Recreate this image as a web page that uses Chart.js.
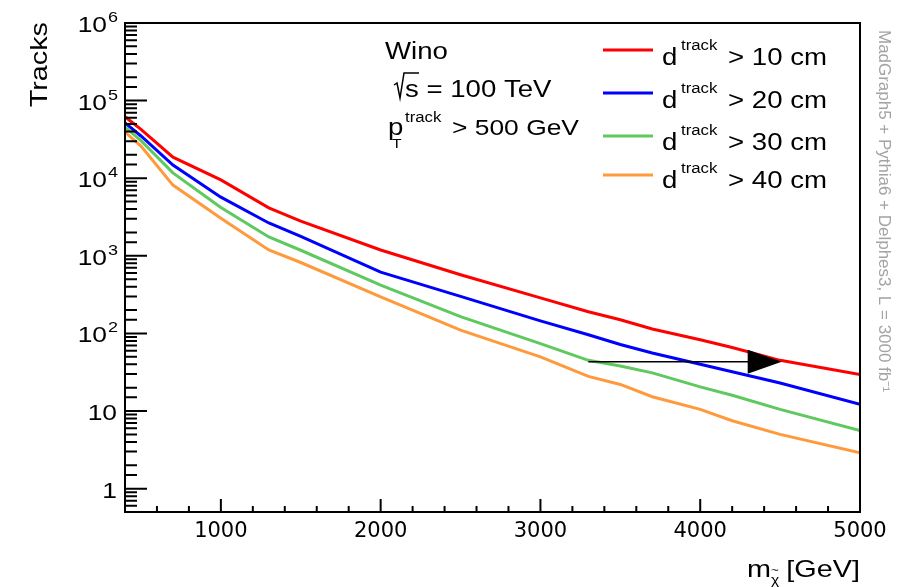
<!DOCTYPE html>
<html>
<head>
<meta charset="utf-8">
<script src="https://cdn.jsdelivr.net/npm/chart.js@4"></script>
<style>
    body { margin: 0; background: #fff; }
    canvas { display: block; }
</style>
</head>
<body>
<canvas id="trackChart" width="899" height="587"></canvas>
<script>
// chargino mass points [GeV]
const masses = [400, 500, 700, 1000, 1300, 1500, 2000, 2500, 3000, 3300, 3500, 3700, 4000, 4200, 4500, 5000];

// number of tracks for each decay-length cut
const tracks10 = [62000, 42500, 18700, 9500, 4150, 2800, 1190, 570, 287, 190, 150, 114, 83, 66, 45, 29.5];
const tracks20 = [51600, 35000, 14800, 5700, 2650, 1780, 615, 300, 145, 96, 72, 56, 40, 32, 23, 12.2];
const tracks30 = [45500, 30500, 11700, 4200, 1750, 1180, 420, 165, 74, 45, 38, 31, 20.5, 16, 10.5, 5.6];
const tracks40 = [39300, 26000, 8150, 3050, 1190, 820, 295, 110, 50, 28, 22, 15.3, 10.5, 7.5, 5.0, 2.9];

const cutLabels = ["> 10 cm", "> 20 cm", "> 30 cm", "> 40 cm"];
const cutColors = ["#ff0000", "#0000ff", "#5fc85f", "#ff9a3c"];

// y axis decade labels
const yMajorValues = [1, 10, 100, 1000, 10000, 100000, 1000000];
const yMajorExps = ["", "", "2", "3", "4", "5", "6"];

// arrow marker: [mass, tracks]
const arrowFrom = [3300, 43];
const arrowTo = [4510, 43];

const FONT = "'Liberation Sans', Arial, sans-serif";
const SX = 1.2; // the original text is a bit wide

// Function to draw horizontally stretched text
function wideText(ctx, str, x, y, size, align, sx) {
    ctx.save();
    ctx.font = size + "px " + FONT;
    ctx.textAlign = align || "left";
    ctx.textBaseline = "alphabetic";
    ctx.translate(x, y);
    ctx.scale(sx || SX, 1);
    ctx.fillText(str, 0, 0);
    ctx.restore();
}

function isDecade(v) {
    const l = Math.log10(v);
    return Math.abs(l - Math.round(l)) < 1e-6;
}

const rootStyle = {
    id: "rootStyle",
    afterDraw(chart) {
        const ctx = chart.ctx;
        const area = chart.chartArea;
        const xs = chart.scales.x;
        const ys = chart.scales.y;

        ctx.save();
        ctx.strokeStyle = "#000";
        ctx.fillStyle = "#000";

        // frame
        ctx.lineWidth = 2;
        ctx.strokeRect(area.left, area.top, area.right - area.left, area.bottom - area.top);

        // inward tick marks
        ctx.lineWidth = 2;
        ctx.beginPath();
        xs.ticks.forEach((t) => {
            const px = xs.getPixelForValue(t.value);
            const len = t.value % 1000 === 0 ? 13 : 6;
            ctx.moveTo(px, area.bottom);
            ctx.lineTo(px, area.bottom - len);
        });
        ys.ticks.forEach((t) => {
            const py = ys.getPixelForValue(t.value);
            if (py < area.top - 0.5 || py > area.bottom + 0.5) return;
            const len = isDecade(t.value) ? 22 : 12;
            ctx.moveTo(area.left, py);
            ctx.lineTo(area.left + len, py);
        });
        ctx.stroke();

        // y labels with exponents
        yMajorValues.forEach((v, i) => {
            const py = ys.getPixelForValue(v);
            const exp = yMajorExps[i];
            if (exp) {
                wideText(ctx, "10", 107, py + 9, 22, "right");
                wideText(ctx, exp, 108, py - 1, 15, "left");
            } else {
                wideText(ctx, String(v), 117, py + 9, 22, "right");
            }
        });

        // axis titles
        ctx.save();
        ctx.translate(47, 22);
        ctx.rotate(-Math.PI / 2);
        wideText(ctx, "Tracks", 0, 0, 24, "right");
        ctx.restore();

        wideText(ctx, "m", 747, 577, 24, "left");
        wideText(ctx, "\u03c7", 771, 584, 13, "left");
        wideText(ctx, "~", 771, 574, 11, "left");
        wideText(ctx, "[GeV]", 860, 577, 24, "right");

        // info text
        wideText(ctx, "Wino", 385, 59, 23);
        ctx.lineWidth = 1.5;
        ctx.beginPath();
        ctx.moveTo(394, 85);
        ctx.lineTo(397, 83);
        ctx.lineTo(400, 98);
        ctx.lineTo(404, 73);
        ctx.lineTo(419, 73);
        ctx.stroke();
        wideText(ctx, "s = 100 TeV", 405, 97, 23);
        wideText(ctx, "p", 388, 135, 23);
        wideText(ctx, "T", 392, 148, 13);
        wideText(ctx, "track", 405, 122, 14);
        wideText(ctx, "> 500 GeV", 452, 135, 22);

        // legend
        const lineY = [50, 93, 136, 175];
        const textY = [65, 108, 150, 188];
        chart.data.datasets.forEach((ds, i) => {
            ctx.strokeStyle = ds.borderColor;
            ctx.lineWidth = 3;
            ctx.beginPath();
            ctx.moveTo(603, lineY[i]);
            ctx.lineTo(653, lineY[i]);
            ctx.stroke();
            ctx.fillStyle = "#000";
            wideText(ctx, "d", 662, textY[i], 23);
            wideText(ctx, "track", 681, textY[i] - 15, 14);
            wideText(ctx, cutLabels[i], 728, textY[i], 23);
        });

        // arrow
        const ax0 = xs.getPixelForValue(arrowFrom[0]);
        const ay0 = ys.getPixelForValue(arrowFrom[1]);
        const ax1 = xs.getPixelForValue(arrowTo[0]);
        const ay1 = ys.getPixelForValue(arrowTo[1]);
        ctx.strokeStyle = "#000";
        ctx.fillStyle = "#000";
        ctx.lineWidth = 1.5;
        ctx.beginPath();
        ctx.moveTo(ax0, ay0);
        ctx.lineTo(ax1 - 30, ay1);
        ctx.stroke();
        ctx.beginPath();
        ctx.moveTo(ax1, ay1);
        ctx.lineTo(ax1 - 34, ay1 - 12);
        ctx.lineTo(ax1 - 34, ay1 + 12);
        ctx.closePath();
        ctx.fill();

        // generator note on the right
        ctx.save();
        ctx.fillStyle = "#a3a3a3";
        ctx.translate(879, 30);
        ctx.rotate(Math.PI / 2);
        wideText(ctx, "MadGraph5 + Pythia6 + Delphes3, L = 3000 fb\u207b\u00b9", 0, 0, 16, "left", 1.06);
        ctx.restore();

        ctx.restore();
    }
};

function makeSeries(values) {
    return masses.map((m, i) => ({ x: m, y: values[i] }));
}

const seriesList = [tracks10, tracks20, tracks30, tracks40];

new Chart(document.getElementById("trackChart").getContext("2d"), {
    type: "line",
    data: {
        datasets: seriesList.map((vals, i) => ({
            label: "d track " + cutLabels[i],
            data: makeSeries(vals),
            borderColor: cutColors[i],
            backgroundColor: cutColors[i],
            borderWidth: 3,
            pointRadius: 0,
            tension: 0,
            fill: false,
        })),
    },
    options: {
        responsive: false,
        animation: false,
        layout: { padding: { left: 0, right: 39, top: 23, bottom: 0 } },
        plugins: {
            legend: { display: false },
            tooltip: { enabled: false },
        },
        scales: {
            x: {
                type: "linear",
                min: 400,
                max: 5000,
                grid: { display: false, drawTicks: false },
                border: { display: false },
                ticks: {
                    stepSize: 200,
                    autoSkip: false,
                    maxRotation: 0,
                    padding: 7,
                    color: "#000",
                    font: { family: "'DejaVu Sans'", size: 21 },
                    callback: (v) => (v % 1000 === 0 ? String(v) : ""),
                },
                afterFit: (s) => { s.height = 75; },
            },
            y: {
                type: "logarithmic",
                min: 0.5,
                max: 1000000,
                grid: { display: false, drawTicks: false },
                border: { display: false },
                ticks: { display: false, autoSkip: false },
                afterFit: (s) => { s.width = 125; },
            },
        },
    },
    plugins: [rootStyle],
});
</script>
</body>
</html>
